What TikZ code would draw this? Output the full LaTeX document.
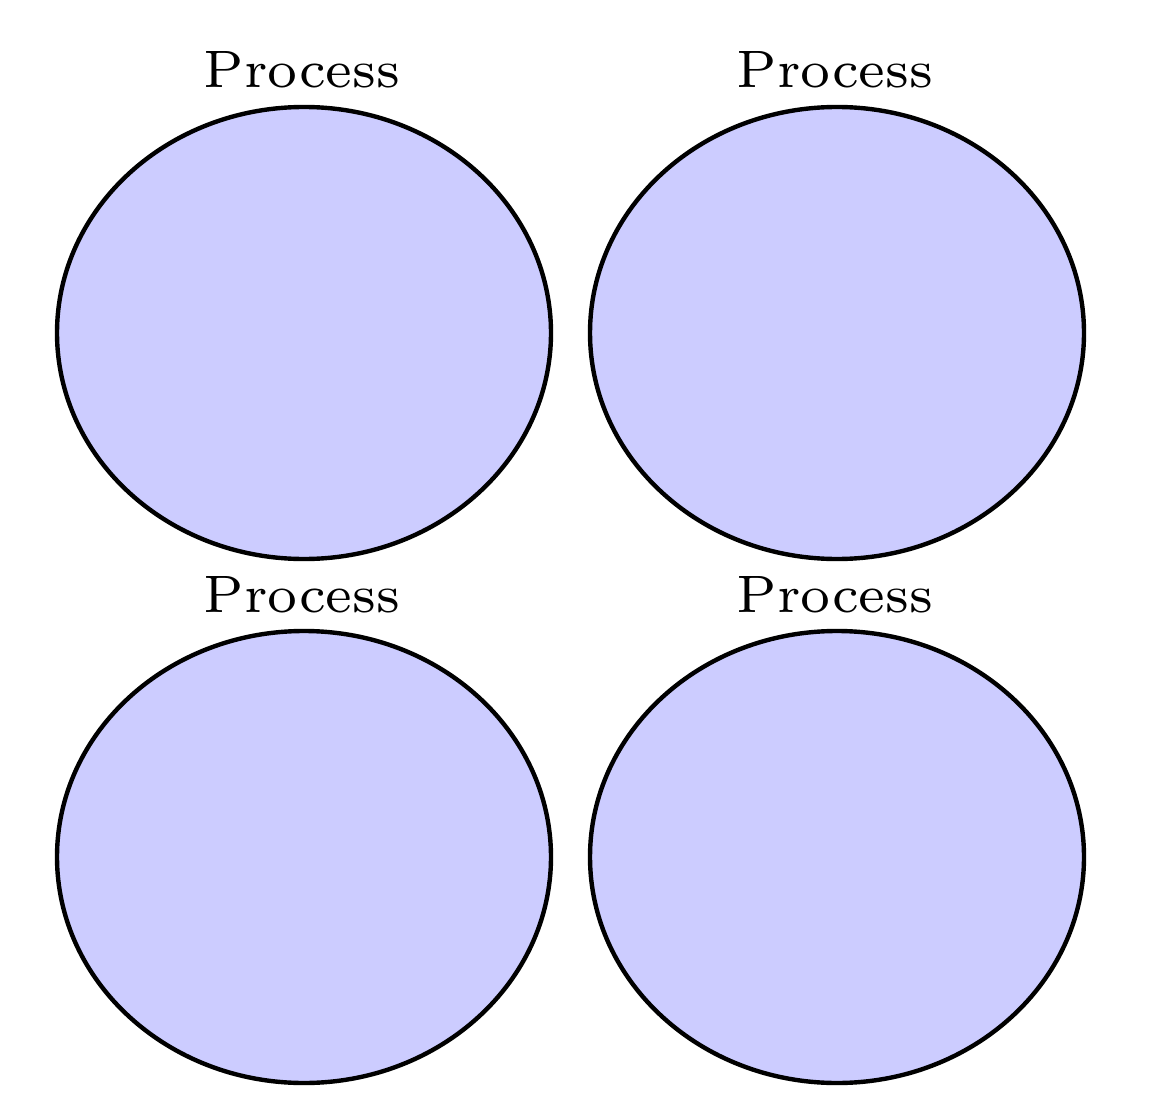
\documentclass[tikz,border=0pt]{standalone}
\usetikzlibrary{shapes.geometric}
\begin{document}
\begin{tikzpicture}[x=1pt,y=-1pt,
  proc/.style={ellipse,draw=black,line width=4.4pt,fill=blue!20,minimum width=494pt,minimum height=452pt,inner sep=0pt},
  plabel/.style={font=\fontsize{7}{8.4}\selectfont,inner sep=0pt,anchor=base,scale=7.53,transform shape}]
\useasboundingbox (0,0) rectangle (1172,1115);
\node[proc] (p1) at (304,333) {};
\node[proc] (p2) at (837,333) {};
\node[proc] (p3) at (304,857) {};
\node[proc] (p4) at (837,857) {};
\node[plabel] (l1) at (302,88) {Process};
\node[plabel] (l2) at (835,88) {Process};
\node[plabel] (l3) at (302,612) {Process};
\node[plabel] (l4) at (835,612) {Process};
\end{tikzpicture}
\end{document}
